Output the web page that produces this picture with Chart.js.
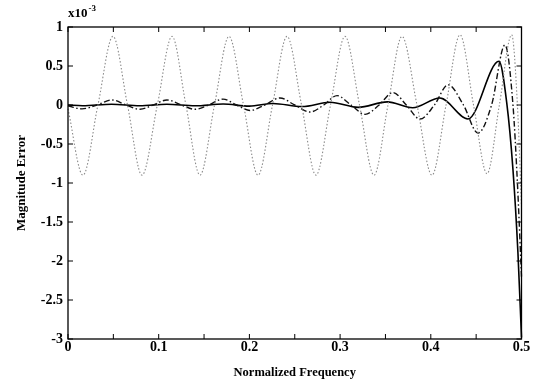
<!DOCTYPE html>
<html>
<head>
<meta charset="utf-8">
<script src="https://cdn.jsdelivr.net/npm/chart.js@4/dist/chart.umd.min.js"></script>
<style>
  html, body { margin: 0; padding: 0; background: #fff; }
  #wrap { width: 533px; height: 385px; }
</style>
</head>
<body>
<div id="wrap"><canvas id="chart" width="533" height="385"></canvas></div>
<script>
// === Данные (ошибка АЧХ, x10^-3) ===
const dottedFreq = [0, 0.0165, 0.033, 0.0496, 0.0656, 0.0816, 0.0985, 0.1147, 0.130, 0.1455, 0.1615, 0.1775,
  0.1935, 0.2095, 0.2255, 0.2415, 0.2575, 0.2734, 0.2894, 0.3054, 0.3214, 0.3374, 0.3528, 0.3682,
  0.3848, 0.4013, 0.4168, 0.4322, 0.4471, 0.4620, 0.4756, 0.4892, 0.4955, 0.5];
const dottedErr = [-0.05, -0.9, 0, 0.88, 0, -0.9, 0, 0.88, 0, -0.9, 0, 0.88,
  0, -0.9, 0, 0.88, 0, -0.9, 0, 0.88, 0, -0.9, 0, 0.88,
  0, -0.9, 0, 0.9, 0, -0.88, 0, 0.9, 0, -1.3];

const dashFreq = [0, 0.0154, 0.032, 0.0485, 0.064, 0.0794, 0.094, 0.1091, 0.125, 0.140, 0.155, 0.1709,
  0.186, 0.2007, 0.217, 0.2337, 0.250, 0.2668, 0.282, 0.2966, 0.312, 0.3275, 0.343, 0.3583,
  0.373, 0.3881, 0.404, 0.419, 0.436, 0.452, 0.467, 0.4818, 0.4906, 0.4955, 0.5];
const dashErr = [-0.01, -0.05, 0, 0.065, 0, -0.055, 0, 0.065, 0, -0.055, 0, 0.075,
  0, -0.07, 0, 0.09, 0, -0.09, 0, 0.12, 0, -0.12, 0, 0.16,
  0, -0.18, 0, 0.26, 0, -0.36, 0, 0.77, 0, -1.0, -2.2];

const solidFreq = [0, 0.016, 0.048, 0.079, 0.109, 0.14, 0.171, 0.2, 0.226, 0.258, 0.289, 0.32,
  0.352, 0.38, 0.41, 0.441, 0.4752, 0.4837, 0.4906, 0.4961, 0.5];
const solidErr = [0, -0.01, 0.01, -0.01, 0.01, -0.01, 0.012, -0.015, 0.02, -0.02, 0.035, -0.03,
  0.04, -0.035, 0.09, -0.18, 0.56, 0.03, -0.83, -1.9, -2.98];

const FONT = '"Liberation Serif", "DejaVu Serif", serif';

const toPts = (xs, ys) => xs.map((x, i) => ({ x, y: ys[i] }));

// === Рамка и внутренние засечки как в MATLAB ===
const frameTicks = {
  id: 'frameTicks',
  afterDraw(chart) {
    const { ctx, chartArea: a, scales: { x, y } } = chart;
    const len = 5;
    ctx.save();
    ctx.strokeStyle = '#000';
    ctx.lineWidth = 1.3;
    ctx.strokeRect(a.left, a.top, a.right - a.left, a.bottom - a.top);
    ctx.lineWidth = 1;
    ctx.beginPath();
    x.ticks.forEach(t => {
      const px = x.getPixelForValue(t.value);
      ctx.moveTo(px, a.bottom); ctx.lineTo(px, a.bottom - len);
      ctx.moveTo(px, a.top); ctx.lineTo(px, a.top + len);
    });
    y.ticks.forEach(t => {
      const py = y.getPixelForValue(t.value);
      ctx.moveTo(a.left, py); ctx.lineTo(a.left + len, py);
      ctx.moveTo(a.right, py); ctx.lineTo(a.right - len, py);
    });
    ctx.stroke();
    // множитель оси Y
    ctx.fillStyle = '#000';
    ctx.textBaseline = 'alphabetic';
    ctx.font = 'bold 13px ' + FONT;
    ctx.fillText('x10', a.left, 17);
    const w = ctx.measureText('x10').width;
    ctx.font = 'bold 9px ' + FONT;
    ctx.fillText('-3', a.left + w + 1, 11);
    ctx.restore();
  }
};

new Chart(document.getElementById('chart'), {
  type: 'line',
  data: {
    datasets: [
      {
        label: 'dotted',
        data: toPts(dottedFreq, dottedErr),
        borderColor: '#8a8a8a',
        borderWidth: 1.1,
        borderDash: [1.5, 2],
        pointRadius: 0,
        cubicInterpolationMode: 'monotone'
      },
      {
        label: 'dashdot',
        data: toPts(dashFreq, dashErr),
        borderColor: '#111',
        borderWidth: 1.4,
        borderDash: [6, 2.5, 1.5, 2.5],
        pointRadius: 0,
        cubicInterpolationMode: 'monotone'
      },
      {
        label: 'solid',
        data: toPts(solidFreq, solidErr),
        borderColor: '#000',
        borderWidth: 1.6,
        pointRadius: 0,
        cubicInterpolationMode: 'monotone'
      }
    ]
  },
  options: {
    responsive: false,
    animation: false,
    clip: false,
    layout: { padding: { top: 27, right: 11.5, left: 0, bottom: 0 } },
    plugins: { legend: { display: false }, tooltip: { enabled: false } },
    scales: {
      x: {
        type: 'linear',
        min: 0,
        max: 0.5,
        border: { display: false },
        grid: { display: false, drawTicks: false },
        afterFit: s => { s.height = 46; },
        afterBuildTicks: s => {
          const t = [];
          for (let i = 0; i <= 10; i++) t.push({ value: i * 0.05 });
          s.ticks = t;
        },
        ticks: {
          color: '#000',
          font: { family: FONT, size: 14, weight: 'bold' },
          padding: 0,
          maxRotation: 0,
          autoSkip: false,
          callback: v => {
            const k = Math.round(v * 100);
            return k % 10 === 0 ? String(k / 100) : '';
          }
        },
        title: {
          display: true,
          text: 'Normalized Frequency',
          color: '#000',
          font: { family: FONT, size: 12.5, weight: 'bold' },
          padding: { top: 8, bottom: 5 }
        }
      },
      y: {
        type: 'linear',
        min: -3,
        max: 1,
        border: { display: false },
        grid: { display: false, drawTicks: false },
        afterFit: s => { s.width = 68; },
        ticks: {
          stepSize: 0.5,
          color: '#000',
          font: { family: FONT, size: 14, weight: 'bold' },
          padding: 5,
          callback: v => String(v)
        },
        title: {
          display: true,
          text: 'Magnitude Error',
          color: '#000',
          font: { family: FONT, size: 13, weight: 'bold' },
          padding: { top: 14, bottom: 0 }
        }
      }
    }
  },
  plugins: [frameTicks]
});
</script>
</body>
</html>
